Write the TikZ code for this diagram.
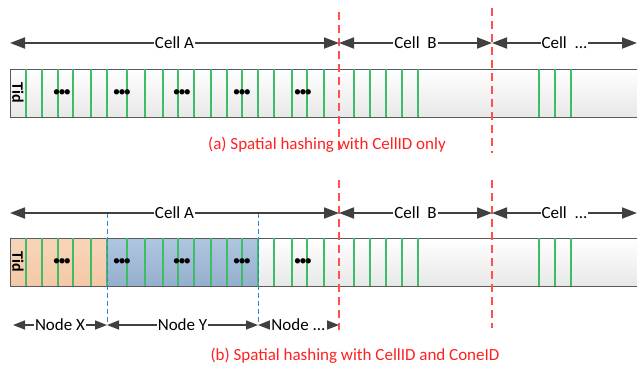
\documentclass[tikz,border=0pt]{standalone}
\usepackage{fontspec}
\setmainfont{Carlito}
\usetikzlibrary{arrows.meta}

\definecolor{slotgreen}{HTML}{3DBE65}
\definecolor{celldash}{HTML}{FF4F4F}
\definecolor{nodedash}{HTML}{2F86D6}
\definecolor{capred}{HTML}{FF2020}
\definecolor{arrowgray}{HTML}{404040}
\definecolor{barline}{HTML}{5A5A5A}
\definecolor{nodexfill}{HTML}{F5C8A5}
\definecolor{nodeyfill}{HTML}{9CB8D9}

% slot separators and dot placeholders of one record bar
% #1 = top of bar, #2 = bottom of bar, #3 = name prefix
\newcommand{\slotrow}[3]{%
  \foreach \sx in {26,42,58,73,91,107,127,145,163,178,194,211,227,242,258,
                   274,292,307,324,354,370,386,402,418,539,555,571}
    \draw[slot] (\sx,#1) -- (\sx,#2);
  \foreach \dx [count=\i] in {62,122,182,242,303}
    \node[dots] (#3dots\i) at (\dx,{(#1+#2)/2})
      {\textbullet\kern-2pt\textbullet\kern-2pt\textbullet};
}

\begin{document}
\begin{tikzpicture}[x=1pt, y=-1pt,
  every node/.style={font=\fontsize{17}{20}\selectfont},
  span/.style={draw=arrowgray, line width=1.8pt,
    {Triangle[length=15pt,width=11pt]}-{Triangle[length=15pt,width=11pt]}},
  subspan/.style={draw=arrowgray, line width=1.6pt,
    {Triangle[length=12pt,width=9pt]}-{Triangle[length=12pt,width=9pt]}},
  lab/.style={fill=white, inner sep=1pt},
  bar/.style={draw=barline, line width=1pt, top color=white, bottom color=black!9},
  slot/.style={draw=slotgreen, line width=1.2pt},
  dots/.style={font=\fontsize{15}{18}\selectfont, inner sep=0pt},
  tid/.style={font=\bfseries\fontsize{16}{20}\selectfont, rotate=-90, inner sep=0pt},
  celldiv/.style={draw=celldash, line width=1.3pt, dash pattern=on 8pt off 5pt},
  nodediv/.style={draw=nodedash, line width=0.9pt, dash pattern=on 5pt off 3pt},
  caption/.style={text=capred}
]
\useasboundingbox (0,0) rectangle (637,368);

% ---------- (a) cells only ----------
\coordinate (a0) at (10,43);
\coordinate (a1) at (339,43);
\coordinate (a2) at (492,43);
\coordinate (a3) at (637,43);

\path[bar] (10,69) rectangle (660,117);
\slotrow{69}{117}{a}
\node[tid] (tidA) at (18,93) {Tid};

\draw[celldiv] (339,12) -- (339,153);
\draw[celldiv] (492,8) -- (492,153);

\draw[span] (a0) -- node[lab] (cellAa) {Cell A} (a1);
\draw[span] (a1) -- node[lab] (cellBa) {Cell\ \ B} (a2);
\draw[span] (a2) -- node[lab] (cellCa) {Cell\ \ ...} (a3);

\node[caption] (capA) at (327,145) {(a) Spatial hashing with CellID only};

% ---------- (b) cells split into nodes ----------
\coordinate (b0) at (10,213);
\coordinate (b1) at (339,213);
\coordinate (b2) at (492,213);
\coordinate (b3) at (637,213);

\path[bar] (10,238) rectangle (660,286);
\path[top color=nodexfill!75, bottom color=nodexfill] (10,238) rectangle (107,286);
\path[top color=nodeyfill!80, bottom color=nodeyfill!95!black] (107,238) rectangle (258,286);
\draw[barline, line width=1pt] (660,238) -- (10,238) -- (10,286) -- (660,286);
\slotrow{238}{286}{b}
\node[tid] (tidB) at (18,262) {Tid};

\draw[celldiv] (339,180) -- (339,330);
\draw[celldiv] (492,180) -- (492,328);

\coordinate (nX) at (13,325);
\coordinate (nY) at (107,325);
\coordinate (nZ) at (258,325);
\coordinate (nE) at (339,325);
\draw[nodediv] (107,213) -- (nY);
\draw[nodediv] (258,213) -- (nZ);

\draw[span] (b0) -- node[lab] (cellAb) {Cell A} (b1);
\draw[span] (b1) -- node[lab] (cellBb) {Cell\ \ B} (b2);
\draw[span] (b2) -- node[lab] (cellCb) {Cell\ \ ...} (b3);

\draw[subspan] (nX) -- node[lab] (nodeX) {Node X} (nY);
\draw[subspan] (nY) -- node[lab] (nodeY) {Node Y} (nZ);
\draw[subspan] (nZ) -- node[lab] (nodeE) {Node ...} (nE);

\node[caption] (capB) at (355,356) {(b) Spatial hashing with CellID and ConeID};
\end{tikzpicture}
\end{document}
